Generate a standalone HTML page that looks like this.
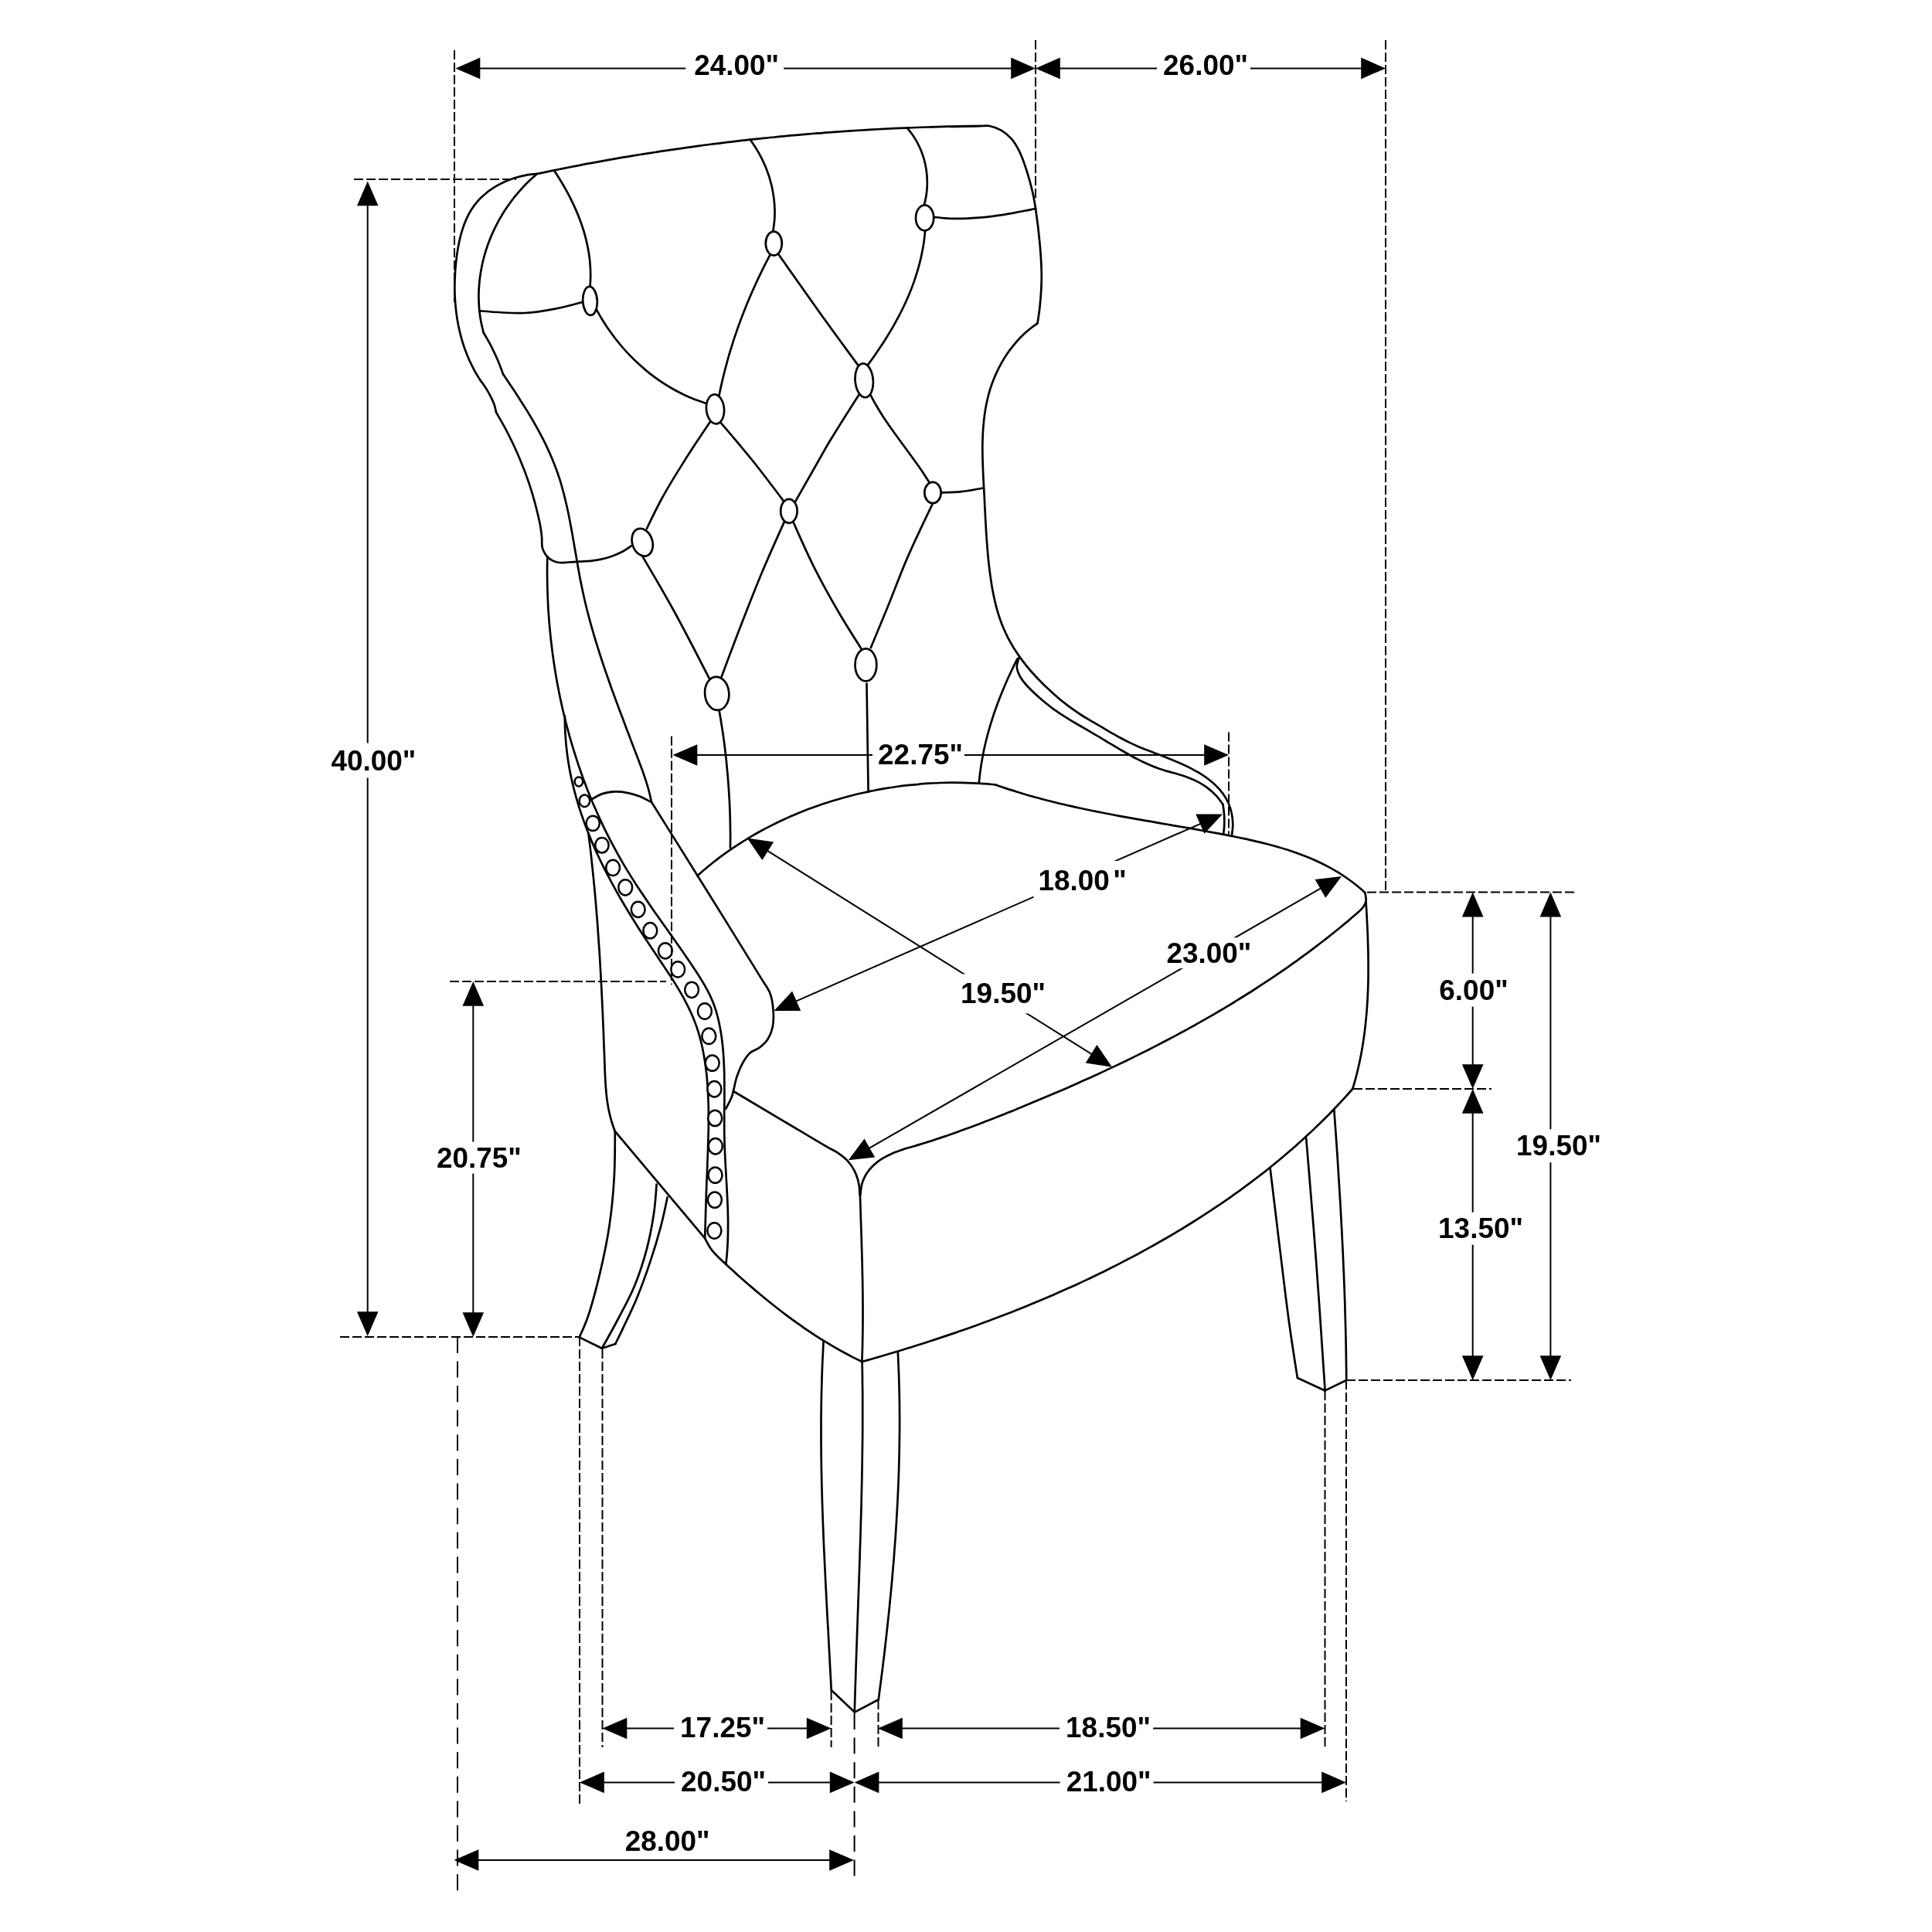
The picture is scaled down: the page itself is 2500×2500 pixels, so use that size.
<!DOCTYPE html>
<html lang="en">
<head>
<meta charset="utf-8">
<title>Chair dimensions</title>
<style>
html,body{margin:0;padding:0;background:#fff;}
body{width:2500px;height:2500px;overflow:hidden;}
svg{display:block;will-change:transform;}
</style>
</head>
<body>
<svg width="2500" height="2500" viewBox="0 0 2500 2500">
<rect width="2500" height="2500" fill="#fff"/>
<g fill="none" stroke="#000" stroke-width="2.7" stroke-linecap="round" stroke-linejoin="round">
<path d="M694.9 225C699.5 224 704.1 223 708.7 222.1C713.3 221.1 717.9 220.2 722.6 219.2C727.2 218.3 731.8 217.4 736.4 216.5C741 215.6 745.7 214.7 750.3 213.8C754.9 212.9 759.5 212 764.2 211.2C768.8 210.3 773.4 209.5 778.1 208.6C782.7 207.8 787.3 207 792 206.1C796.6 205.3 801.2 204.5 805.9 203.7C810.5 202.9 815.2 202.2 819.8 201.4C824.4 200.6 829.1 199.9 833.7 199.1C838.4 198.4 843 197.7 847.7 197C852.3 196.2 857 195.5 861.6 194.8C866.3 194.1 871 193.5 875.6 192.8C880.3 192.1 884.9 191.4 889.6 190.8C894.3 190.2 898.9 189.5 903.6 188.9C908.3 188.3 912.9 187.7 917.6 187C922.3 186.4 926.9 185.9 931.6 185.3C936.3 184.7 940.9 184.1 945.6 183.6C950.3 183 955 182.5 959.6 181.9C964.3 181.4 969 180.9 973.7 180.4C978.3 179.9 983 179.4 987.7 178.9C992.4 178.4 997.1 177.9 1001.8 177.5C1006.4 177 1011.1 176.5 1015.8 176.1C1020.5 175.7 1025.2 175.2 1029.9 174.8C1034.6 174.4 1039.3 174 1043.9 173.6C1048.6 173.2 1053.3 172.8 1058 172.4C1062.7 172.1 1067.4 171.7 1072.1 171.3C1076.8 171 1081.5 170.6 1086.2 170.3C1090.9 170 1095.6 169.7 1100.3 169.4C1105 169.1 1109.7 168.8 1114.4 168.5C1119.1 168.2 1123.8 167.9 1128.5 167.6C1133.2 167.4 1137.9 167.1 1142.6 166.9C1147.3 166.6 1152 166.4 1156.7 166.2C1161.4 166 1166.1 165.8 1170.8 165.6C1175.5 165.4 1180.2 165.2 1184.9 165C1189.6 164.8 1194.3 164.7 1199 164.5C1203.7 164.4 1208.4 164.2 1213.1 164.1C1217.8 164 1222.5 163.8 1227.2 163.7C1231.9 163.6 1236.7 163.5 1241.4 163.4C1246.1 163.3 1250.8 163.2 1255.5 163.2C1260.2 163.1 1264.9 163.1 1269.6 163"/>
<path d="M1230 164C1245.3 163.6 1260.5 163.1 1269.6 163C1274.3 162.9 1276.5 162.3 1280.4 163C1285.2 163.9 1291.3 166.2 1296 168.9C1300.6 171.6 1304.7 175 1308.4 179.2C1312.6 183.9 1316.1 189.9 1319.3 196.3C1323 203.6 1325.8 212.5 1328.6 221.1C1331.5 230.1 1334.3 240.4 1336.3 249.1C1338 256.6 1338.8 261.7 1340.1 270.2C1342 282.8 1344.4 302.3 1345.7 317.4C1346.9 331.4 1347.8 344.6 1347.8 357.8C1347.8 370.5 1346.8 384.1 1345.7 395C1344.9 403.7 1343.7 411 1342.5 418.3"/>
<path d="M1342.5 418.3C1338.6 421 1334.8 423.8 1331.2 426.8C1327.5 429.8 1324.1 433 1320.8 436.3C1317.5 439.7 1314.4 443.2 1311.5 446.8C1308.5 450.4 1305.7 454.1 1303.1 458C1300.5 461.8 1298.1 465.8 1295.8 469.9C1293.5 474 1291.4 478.1 1289.5 482.4C1287.5 486.6 1285.7 490.9 1284.1 495.3C1282.5 499.6 1281.1 504.1 1279.8 508.5C1278.6 513 1277.5 517.5 1276.5 522.1C1275.6 526.6 1274.8 531.2 1274.2 535.7C1273.5 540.3 1273 545 1272.6 549.6C1272.2 554.2 1271.9 558.9 1271.7 563.6C1271.5 568.2 1271.4 572.9 1271.3 577.6C1271.3 582.3 1271.4 587 1271.5 591.7C1271.5 596.4 1271.7 601.1 1271.9 605.9C1272.1 610.6 1272.3 615.3 1272.5 620C1272.8 624.7 1273 629.4 1273.3 634.1C1273.5 638.7 1273.8 643.4 1274 648.1C1274.2 652.7 1274.4 657.4 1274.7 662C1274.9 666.6 1275.1 671.3 1275.4 675.9C1275.7 680.5 1275.9 685.1 1276.2 689.8C1276.5 694.4 1276.8 699 1277.2 703.6C1277.5 708.2 1277.9 712.8 1278.3 717.4C1278.7 722.1 1279.2 726.7 1279.7 731.3C1280.3 735.9 1280.8 740.6 1281.5 745.2C1282.1 749.9 1282.8 754.5 1283.6 759.2C1284.4 763.8 1285.3 768.4 1286.3 773.1C1287.3 777.7 1288.4 782.2 1289.6 786.8C1290.8 791.3 1292.2 795.8 1293.7 800.2C1295.2 804.6 1296.8 809 1298.7 813.3C1300.5 817.6 1302.5 821.8 1304.6 825.9C1306.8 830 1309.1 834 1311.5 838C1314 841.9 1316.5 845.8 1319.2 849.6C1321.9 853.4 1324.8 857.1 1327.7 860.8C1330.6 864.4 1333.6 868 1336.8 871.5C1339.9 875 1343.1 878.4 1346.4 881.7C1349.7 885.1 1353 888.3 1356.5 891.5C1359.9 894.7 1363.3 897.9 1366.9 900.9C1370.4 904 1374 907 1377.7 909.9C1381.3 912.7 1385 915.5 1388.8 918.2C1392.6 920.9 1396.5 923.5 1400.4 926C1404.3 928.5 1408.3 930.8 1412.3 933.2C1416.3 935.5 1420.4 937.9 1424.4 940.2C1428.5 942.6 1432.5 945 1436.5 947.3C1440.6 949.6 1444.6 952 1448.8 954.2C1452.9 956.4 1457 958.6 1461.2 960.6C1465.4 962.7 1469.6 964.6 1473.9 966.4C1478.1 968.2 1482.4 969.9 1486.8 971.6C1491.1 973.3 1495.4 974.9 1499.8 976.6C1504.1 978.3 1508.4 979.9 1512.8 981.7C1517.1 983.4 1521.4 985.1 1525.7 987C1530 988.9 1534.2 990.8 1538.4 992.9C1542.6 995.1 1546.8 997.3 1550.9 999.7C1554.9 1002.2 1558.9 1004.7 1562.7 1007.5C1566.4 1010.4 1570.1 1013.3 1573.4 1016.6C1576.7 1019.8 1579.8 1023.3 1582.5 1027C1585.1 1030.7 1587.5 1034.7 1589.4 1038.8C1591.3 1043 1592.7 1047.6 1593.7 1052.2C1594.7 1056.7 1595.2 1061.6 1595.3 1066.2C1595.4 1070.9 1594.7 1075.6 1594.1 1080.2"/>
<path d="M694.9 225C690.2 225.4 685.6 225.7 680.9 226.6C676.2 227.4 671.4 228.6 666.8 230C662.1 231.5 657.4 233.3 652.9 235.3C648.5 237.3 644 239.6 639.9 242.2C635.8 244.8 631.7 247.6 628.1 250.7C624.4 253.7 621 257 617.9 260.6C614.8 264.1 612.1 267.9 609.7 271.8C607.2 275.7 605.1 279.9 603.2 284.1C601.3 288.4 599.7 292.8 598.3 297.3C596.8 301.8 595.7 306.4 594.6 311.1C593.5 315.8 592.7 320.5 591.9 325.3C591.2 330.1 590.6 334.9 590.1 339.7C589.5 344.6 589.1 349.4 588.9 354.2C588.6 359.1 588.4 363.9 588.4 368.8C588.3 373.6 588.4 378.4 588.6 383.3C588.8 388.1 589.2 392.9 589.7 397.7C590.1 402.4 590.7 407.2 591.5 411.9C592.3 416.6 593.1 421.3 594.2 426C595.2 430.6 596.4 435.3 597.7 439.8C599.1 444.4 600.5 448.9 602.2 453.4C603.8 457.8 605.6 462.2 607.5 466.5C609.5 470.9 611.6 475.1 613.9 479.3C616.2 483.5 618.7 487.5 621.2 491.6"/>
<path d="M621.2 491.6C624.3 495.7 627.4 499.8 630.2 504.6C633.4 510 637.3 517.4 639.3 522.7C640.7 526.5 641.3 529.8 641.9 533"/>
<path d="M643.2 535.6C645.6 539.7 648 543.8 650.3 547.9C652.6 552.1 654.9 556.3 657 560.5C659.2 564.7 661.3 569 663.4 573.2C665.4 577.5 667.4 581.9 669.3 586.2C671.3 590.6 673.1 594.9 674.9 599.4C676.7 603.8 678.4 608.2 680.1 612.7C681.7 617.1 683.3 621.6 684.8 626.1C686.3 630.6 687.7 635.2 689.1 639.7C690.4 644.3 691.7 648.9 692.9 653.5C694.1 658 695.3 662.7 696.3 667.3C697.4 671.9 698.5 676.6 699.3 681.2C700.1 685.9 700.7 690.5 701.1 695.2C701.6 699.8 700.6 704.8 701.9 709.2C703.3 713.7 706.2 718.7 709.6 721.8C712.9 724.8 717.6 726.8 721.9 727.7C726.4 728.7 731.3 727.7 736 727.5C740.8 727.3 745.5 726.8 750.2 726.6C754.9 726.3 759.5 726.3 764.2 725.8C768.8 725.3 773.5 724.6 778.1 723.6C782.8 722.6 787.4 721.3 791.9 719.7C796.4 718.1 800.8 716.2 805 714C809.2 711.7 813.1 709 817 706.3"/>
<path d="M694.9 225C691.3 228.1 687.7 231.2 684.3 234.5C680.9 237.8 677.5 241.3 674.4 244.8C671.2 248.3 668.1 252 665.1 255.7C662.2 259.5 659.3 263.3 656.6 267.3C653.9 271.2 651.3 275.2 648.9 279.4C646.4 283.5 644.1 287.7 642 291.9C639.8 296.2 637.8 300.5 635.9 304.9C634 309.3 632.3 313.8 630.7 318.3C629.2 322.8 627.7 327.4 626.5 332C625.2 336.6 624.1 341.2 623.2 345.9C622.3 350.5 621.5 355.2 620.9 360C620.3 364.7 619.9 369.4 619.7 374.1C619.4 378.9 619.4 383.6 619.5 388.4C619.6 393.1 619.9 397.9 620.4 402.6C620.9 407.4 621.6 412.1 622.5 416.8C623.4 421.5 624.6 426.1 625.8 430.8"/>
<path d="M625.8 430.8C629.1 436.3 632.4 441.7 635.4 447.6C638.6 453.8 641.8 460.7 644.5 467C646.9 472.8 648.9 478.3 650.9 483.9"/>
<path d="M650.9 483.9C653.5 487.7 656.1 491.6 658.6 495.4C661.2 499.3 663.8 503.2 666.4 507.1C668.9 511 671.5 515 674 518.9C676.6 522.9 679.1 526.9 681.6 530.9C684 535 686.5 539 688.9 543.1C691.2 547.2 693.6 551.3 695.9 555.4C698.1 559.6 700.4 563.7 702.5 567.9C704.6 572.1 706.7 576.3 708.7 580.6C710.7 584.9 712.6 589.1 714.4 593.5C716.2 597.8 717.9 602.1 719.5 606.5C721.2 610.9 722.6 615.3 724.1 619.7C725.5 624.2 726.8 628.6 728 633.1C729.3 637.6 730.4 642.1 731.5 646.7C732.6 651.2 733.6 655.7 734.6 660.3C735.6 664.9 736.5 669.5 737.4 674C738.3 678.6 739.1 683.3 740 687.9C740.8 692.5 741.6 697.1 742.4 701.7C743.2 706.4 744 711 744.8 715.6C745.6 720.2 746.4 724.9 747.2 729.5C748 734.1 748.8 738.8 749.7 743.4C750.5 748 751.4 752.6 752.4 757.2C753.3 761.8 754.3 766.4 755.3 771C756.3 775.5 757.4 780.1 758.5 784.7C759.6 789.2 760.8 793.7 762 798.3C763.2 802.8 764.4 807.3 765.7 811.8C767 816.3 768.3 820.8 769.6 825.3C771 829.8 772.4 834.3 773.8 838.8C775.2 843.2 776.6 847.7 778.1 852.2C779.5 856.6 781 861.1 782.5 865.5C784 869.9 785.6 874.4 787.1 878.8C788.7 883.2 790.2 887.7 791.8 892.1C793.4 896.5 795 900.9 796.6 905.3C798.3 909.7 799.9 914.1 801.5 918.5C803.2 922.9 804.8 927.2 806.5 931.6C808.1 936 809.8 940.4 811.4 944.8C813.1 949.1 814.8 953.5 816.4 957.9C818.1 962.2 819.8 966.6 821.4 971C823.1 975.3 824.7 979.7 826.4 984C828 988.4 829.7 992.7 831.3 997.1C832.8 1001.5 834.4 1005.8 835.8 1010.3C837.2 1014.7 838.6 1019.1 839.7 1023.5C840.9 1028 841.9 1032.5 842.8 1037"/>
<path d="M708.3 720.2C708.2 724.8 708.1 729.5 708.1 734.1C708 738.8 708.1 743.4 708.1 748.1C708.2 752.8 708.2 757.4 708.4 762.1C708.5 766.7 708.7 771.4 708.9 776.1C709.1 780.7 709.3 785.4 709.6 790.1C709.9 794.7 710.3 799.4 710.6 804.1C711 808.7 711.4 813.4 711.9 818.1C712.3 822.7 712.8 827.4 713.4 832C713.9 836.7 714.5 841.3 715.1 846C715.7 850.6 716.4 855.3 717.1 859.9C717.8 864.6 718.5 869.2 719.3 873.8C720.1 878.5 720.9 883.1 721.8 887.7C722.7 892.3 723.6 896.9 724.5 901.5C725.5 906.1 726.5 910.7 727.5 915.3C728.6 919.9 729.6 924.4 730.8 929C731.9 933.6 733.1 938.1 734.3 942.6C735.5 947.2 736.7 951.7 738 956.2C739.3 960.7 740.6 965.2 742 969.7C743.4 974.2 744.8 978.7 746.3 983.1C747.7 987.6 749.2 992.1 750.8 996.5C752.3 1000.9 753.9 1005.3 755.5 1009.7C757.2 1014.1 758.8 1018.5 760.5 1022.9C762.3 1027.2 764 1031.6 765.8 1035.9C767.6 1040.2 769.5 1044.5 771.4 1048.8C773.2 1053.1 775.2 1057.4 777.2 1061.6C779.1 1065.9 781.1 1070.1 783.2 1074.3C785.3 1078.5 787.4 1082.7 789.5 1086.8C791.7 1091 793.9 1095.1 796.1 1099.2C798.3 1103.3 800.6 1107.4 802.9 1111.5C805.3 1115.6 807.6 1119.6 810 1123.6C812.5 1127.6 814.9 1131.6 817.4 1135.6C819.9 1139.5 822.4 1143.5 825 1147.4C827.6 1151.3 830.2 1155.2 832.8 1159.1C835.4 1163 838 1166.8 840.7 1170.7C843.3 1174.6 846 1178.4 848.7 1182.3C851.4 1186.1 854.1 1189.9 856.8 1193.8C859.5 1197.6 862.2 1201.4 865 1205.3C867.7 1209.1 870.4 1212.9 873.1 1216.7C875.8 1220.6 878.5 1224.4 881.2 1228.3C883.8 1232.1 886.5 1236 889.1 1239.8C891.8 1243.7 894.4 1247.6 897 1251.5C899.6 1255.3 902.2 1259.2 904.7 1263.2C907.1 1267.1 909.6 1271.1 911.9 1275.1C914.2 1279.1 916.4 1283.2 918.4 1287.4C920.3 1291.5 922.2 1295.7 923.8 1300C925.4 1304.3 926.8 1308.7 928 1313.1C929.2 1317.5 930.2 1322 931.1 1326.6C932.1 1331.1 932.8 1335.7 933.5 1340.3C934.2 1344.9 934.7 1349.5 935.2 1354.1C935.7 1358.8 936 1363.5 936.3 1368.1C936.6 1372.8 936.8 1377.5 937 1382.3C937.2 1387 937.3 1391.7 937.3 1396.5C937.4 1401.2 937.4 1406 937.4 1410.7C937.4 1415.5 937.4 1420.3 937.4 1425C937.3 1429.8 937.3 1434.6 937.2 1439.3C937.2 1444.1 937.2 1448.8 937.2 1453.6C937.2 1458.3 937.2 1463 937.3 1467.8C937.4 1472.5 937.5 1477.2 937.6 1481.8C937.8 1486.5 938 1491.2 938.2 1495.8C938.4 1500.5 938.7 1505.1 938.9 1509.8C939.2 1514.4 939.5 1519.1 939.7 1523.7C940 1528.3 940.3 1532.9 940.5 1537.6C940.8 1542.2 941 1546.8 941.2 1551.4C941.4 1556.1 941.6 1560.7 941.8 1565.4C941.9 1570 942 1574.6 942.1 1579.3C942.1 1584 942.1 1588.6 942 1593.3C942 1598 941.9 1602.7 941.7 1607.4C941.4 1612.2 941.2 1616.9 940.8 1621.6C940.4 1626.4 939.9 1631.2 939.4 1636"/>
<path d="M730.9 926.6C730.9 931.4 730.9 936.3 731.1 941.1C731.2 945.9 731.5 950.6 731.9 955.4C732.2 960.1 732.6 964.8 733.2 969.5C733.7 974.2 734.3 978.9 735 983.5C735.7 988.2 736.5 992.8 737.4 997.4C738.3 1002 739.2 1006.6 740.3 1011.1C741.3 1015.7 742.4 1020.2 743.6 1024.7C744.8 1029.2 746 1033.7 747.4 1038.1C748.7 1042.6 750.1 1047 751.6 1051.4C753 1055.8 754.6 1060.2 756.2 1064.6C757.7 1069 759.4 1073.3 761.1 1077.6C762.9 1082 764.6 1086.3 766.5 1090.6C768.3 1094.9 770.2 1099.1 772.1 1103.4C774.1 1107.6 776.1 1111.9 778.1 1116.1C780.2 1120.3 782.3 1124.5 784.4 1128.7C786.6 1132.9 788.8 1137 791 1141.2C793.2 1145.3 795.5 1149.4 797.8 1153.6C800.1 1157.7 802.5 1161.8 804.8 1165.8C807.2 1169.9 809.6 1174 812.1 1178C814.5 1182.1 817 1186.1 819.5 1190.1C822 1194.2 824.5 1198.2 827.1 1202.2C829.6 1206.1 832.2 1210.1 834.8 1214.1C837.4 1218.1 840 1222 842.7 1225.9C845.3 1229.9 848 1233.8 850.6 1237.7C853.2 1241.7 855.9 1245.6 858.5 1249.5C861.1 1253.4 863.8 1257.3 866.3 1261.3C868.9 1265.2 871.4 1269.1 873.9 1273.1C876.3 1277.1 878.7 1281.1 881.1 1285.1C883.4 1289.1 885.6 1293.2 887.7 1297.3C889.9 1301.4 891.9 1305.5 893.8 1309.7C895.7 1313.9 897.5 1318.1 899.1 1322.4C900.8 1326.7 902.3 1331 903.6 1335.4C905 1339.8 906.2 1344.3 907.3 1348.8C908.4 1353.3 909.4 1357.8 910.2 1362.4C911.1 1366.9 911.9 1371.5 912.5 1376.2C913.2 1380.8 913.8 1385.5 914.3 1390.1C914.8 1394.8 915.2 1399.5 915.5 1404.2C915.9 1408.9 916.1 1413.7 916.3 1418.4C916.5 1423.1 916.7 1427.9 916.8 1432.6C916.9 1437.4 916.9 1442.2 916.9 1446.9C916.9 1451.7 916.8 1456.5 916.8 1461.3C916.7 1466 916.6 1470.8 916.4 1475.6C916.3 1480.4 916.1 1485.1 916 1489.9C915.8 1494.7 915.6 1499.4 915.4 1504.2C915.3 1508.9 915.1 1513.7 914.9 1518.4C914.7 1523.1 914.5 1527.8 914.3 1532.6C914.2 1537.3 914 1541.9 913.8 1546.6C913.7 1551.3 913.5 1556 913.4 1560.6C913.2 1565.3 913.1 1569.9 913 1574.6C912.8 1579.2 912.7 1583.8 912.6 1588.5C912.4 1593.1 912.3 1597.7 912.2 1602.3"/>
<path d="M761.3 1077.6C761.9 1082.4 762.5 1087.1 763.1 1091.9C763.7 1096.7 764.2 1101.4 764.8 1106.2C765.3 1111 765.8 1115.7 766.3 1120.5C766.9 1125.3 767.3 1130.1 767.8 1134.8C768.3 1139.6 768.8 1144.4 769.2 1149.2C769.7 1154 770.1 1158.8 770.5 1163.5C770.9 1168.3 771.3 1173.1 771.7 1177.9C772.1 1182.7 772.5 1187.5 772.9 1192.3C773.2 1197.1 773.6 1201.9 773.9 1206.6C774.3 1211.4 774.6 1216.2 774.9 1221C775.2 1225.8 775.6 1230.6 775.9 1235.4C776.2 1240.2 776.4 1245 776.7 1249.8C777 1254.6 777.3 1259.4 777.5 1264.2C777.8 1269 778 1273.8 778.3 1278.6C778.5 1283.4 778.8 1288.2 779 1293C779.2 1297.8 779.4 1302.6 779.7 1307.4C779.9 1312.2 780.1 1317 780.3 1321.8C780.5 1326.6 780.7 1331.4 780.9 1336.2C781.1 1341 781.3 1345.8 781.4 1350.6C781.6 1355.4 781.8 1360.2 782 1365C782.2 1369.8 782.3 1374.6 782.5 1379.4C782.7 1384.2 782.8 1389 783.1 1393.8C783.3 1398.5 783.6 1403.3 784 1408.1C784.4 1412.8 784.8 1417.6 785.4 1422.3C786.1 1427 786.8 1431.7 787.7 1436.4C788.7 1441 789.8 1445.7 791.1 1450.2C792.4 1454.8 794.1 1459.4 795.8 1463.9"/>
<path d="M795.8 1463.9 L912.2 1602.3"/>
<path d="M912.2 1602.3C914.8 1607.5 917.3 1612.8 921.3 1617.9C926 1624 932.7 1630 939.4 1636"/>
<path d="M939.4 1636C942.9 1639.3 946.5 1642.5 950.1 1645.7C953.6 1649 957.2 1652.2 960.9 1655.4C964.5 1658.6 968.1 1661.8 971.8 1664.9C975.5 1668.1 979.1 1671.2 982.8 1674.3C986.6 1677.4 990.3 1680.5 994 1683.5C997.8 1686.5 1001.6 1689.5 1005.4 1692.5C1009.2 1695.5 1013 1698.4 1016.9 1701.3C1020.8 1704.2 1024.7 1707.1 1028.6 1709.9C1032.5 1712.8 1036.4 1715.5 1040.4 1718.3C1044.4 1721 1048.4 1723.7 1052.4 1726.4C1056.5 1729 1060.5 1731.6 1064.6 1734.2C1068.7 1736.7 1072.9 1739.2 1077 1741.6C1081.2 1744.1 1085.4 1746.5 1089.6 1748.8C1093.8 1751.1 1098.1 1753.4 1102.4 1755.6C1106.7 1757.8 1111 1759.9 1115.4 1762"/>
<path d="M765.2 1034.6C769.9 1031.7 774.5 1028.8 779.6 1027.1C784.6 1025.4 790 1024.7 795.3 1024.4C800.6 1024.2 806.2 1024.8 811.5 1025.8C816.8 1026.7 822.1 1028.4 827.2 1030.3C832.1 1032.3 836.8 1034.8 841.5 1037.4"/>
<path d="M842.8 1037.5C866.9 1076 891.1 1114.6 915 1153C938.7 1191.1 972.5 1245.2 985.7 1267.1C991 1275.9 994.1 1279 996.6 1285.7C999.1 1292.5 1000.1 1300.2 1000.6 1307.5C1001.1 1314.7 1001.1 1322.7 999.7 1329.2C998.5 1334.9 996.4 1340.2 993.5 1344.7C990.7 1349 986.6 1352.6 982.6 1355.6C978.8 1358.5 973.7 1359.5 970.2 1362.7C966.4 1366.1 963.6 1370.9 960.9 1375.8C957.8 1381.3 955.1 1388.4 953.1 1394.4C951.4 1399.7 950.5 1405.4 949.4 1409.9C948.5 1413.4 948.2 1415.9 946.9 1419.3C945.2 1423.9 942.1 1429.4 939.1 1434.8"/>
<path d="M902.3 1133.3C905.9 1130.2 909.4 1127 913.1 1124C916.7 1120.9 920.4 1117.9 924.1 1115C927.9 1112.1 931.7 1109.2 935.5 1106.4C939.3 1103.6 943.2 1100.9 947.2 1098.2C951.1 1095.5 955.1 1092.9 959.1 1090.4C963.1 1087.8 967.1 1085.4 971.2 1082.9C975.3 1080.5 979.5 1078.1 983.6 1075.8C987.8 1073.5 992 1071.3 996.3 1069.1C1000.5 1067 1004.8 1064.9 1009.1 1062.8C1013.4 1060.8 1017.7 1058.8 1022.1 1056.8C1026.5 1054.9 1030.9 1053.1 1035.3 1051.3C1039.8 1049.5 1044.2 1047.7 1048.7 1046.1C1053.2 1044.4 1057.7 1042.8 1062.2 1041.2C1066.8 1039.7 1071.3 1038.2 1075.9 1036.8C1080.5 1035.4 1085.1 1034 1089.7 1032.7C1094.3 1031.4 1098.9 1030.2 1103.6 1029C1108.2 1027.8 1112.9 1026.7 1117.6 1025.7C1122.3 1024.6 1127 1023.7 1131.7 1022.7C1136.4 1021.8 1141.1 1021 1145.8 1020.2C1150.6 1019.4 1155.3 1018.7 1160 1018C1164.8 1017.3 1169.5 1016.7 1174.3 1016.2C1179 1015.6 1183.8 1015.2 1188.6 1014.8C1193.3 1014.3 1198.1 1014 1202.9 1013.7C1207.6 1013.4 1212.4 1013.2 1217.1 1013C1221.9 1012.9 1226.7 1012.8 1231.4 1012.7C1236.2 1012.7 1240.9 1012.7 1245.7 1012.8C1250.4 1012.9 1255.1 1013.1 1259.9 1013.3C1264.6 1013.5 1269.3 1013.8 1274 1014.2C1278.7 1014.5 1283.4 1015 1288.1 1015.4"/>
<path d="M1288.1 1015.4C1292.6 1017 1297.2 1018.6 1301.7 1020.1C1306.3 1021.6 1310.9 1023.1 1315.5 1024.5C1320 1025.9 1324.6 1027.3 1329.2 1028.7C1333.8 1030 1338.5 1031.3 1343.1 1032.5C1347.7 1033.8 1352.3 1035 1357 1036.2C1361.6 1037.4 1366.2 1038.5 1370.9 1039.7C1375.6 1040.8 1380.2 1041.9 1384.9 1042.9C1389.6 1044 1394.2 1045 1398.9 1046C1403.6 1047 1408.3 1048 1413 1049C1417.7 1049.9 1422.4 1050.9 1427.1 1051.8C1431.8 1052.7 1436.5 1053.6 1441.2 1054.5C1445.9 1055.4 1450.6 1056.2 1455.3 1057.1C1460 1057.9 1464.7 1058.8 1469.5 1059.6C1474.2 1060.5 1478.9 1061.3 1483.6 1062.1C1488.4 1062.9 1493.1 1063.7 1497.8 1064.6C1502.5 1065.4 1507.3 1066.2 1512 1067C1516.7 1067.8 1521.5 1068.6 1526.2 1069.5C1530.9 1070.3 1535.6 1071.1 1540.4 1071.9C1545.1 1072.8 1549.8 1073.6 1554.5 1074.5C1559.2 1075.3 1564 1076.2 1568.7 1077.1C1573.4 1077.9 1578.1 1078.8 1582.8 1079.7C1587.5 1080.6 1592.2 1081.6 1596.9 1082.5C1601.6 1083.5 1606.3 1084.4 1611 1085.4C1615.7 1086.5 1620.4 1087.5 1625 1088.6C1629.7 1089.7 1634.3 1090.8 1639 1092C1643.6 1093.1 1648.2 1094.4 1652.8 1095.7C1657.3 1097 1661.9 1098.4 1666.4 1099.8C1670.9 1101.3 1675.4 1102.8 1679.8 1104.4C1684.3 1106 1688.7 1107.7 1693.1 1109.5C1697.5 1111.3 1701.8 1113.2 1706.1 1115.2C1710.4 1117.2 1714.6 1119.3 1718.8 1121.6C1723 1123.8 1727.1 1126.2 1731.2 1128.7C1735.3 1131.2 1739.3 1133.8 1743.2 1136.5C1747.2 1139.3 1751.1 1142.2 1754.9 1145.3C1758.8 1148.3 1762.5 1151.6 1766.2 1154.9"/>
<path d="M1766.2 1154.9C1767.2 1159 1768.1 1163.2 1767.5 1166.6C1767 1169.5 1765.3 1172 1763.6 1174.3C1761.9 1176.7 1759.5 1178.8 1757.1 1180.8"/>
<path d="M1757.1 1180.8C1753.5 1183.9 1749.9 1187 1746.3 1190.1C1742.6 1193.1 1739 1196.2 1735.3 1199.2C1731.6 1202.2 1727.9 1205.2 1724.2 1208.2C1720.5 1211.1 1716.8 1214.1 1713 1217C1709.3 1219.9 1705.5 1222.8 1701.7 1225.6C1698 1228.5 1694.2 1231.3 1690.4 1234.2C1686.5 1237 1682.7 1239.8 1678.9 1242.6C1675 1245.3 1671.2 1248.1 1667.3 1250.8C1663.4 1253.5 1659.5 1256.2 1655.6 1258.9C1651.7 1261.6 1647.8 1264.3 1643.8 1266.9C1639.9 1269.5 1635.9 1272.1 1631.9 1274.7C1628 1277.3 1624 1279.9 1620 1282.5C1616 1285 1612 1287.5 1608 1290C1603.9 1292.6 1599.9 1295 1595.9 1297.5C1591.8 1300 1587.7 1302.4 1583.7 1304.9C1579.6 1307.3 1575.5 1309.7 1571.4 1312.1C1567.3 1314.5 1563.2 1316.8 1559.1 1319.2C1554.9 1321.6 1550.8 1323.9 1546.7 1326.2C1542.5 1328.5 1538.4 1330.8 1534.2 1333.1C1530 1335.4 1525.8 1337.6 1521.7 1339.9C1517.5 1342.1 1513.3 1344.3 1509.1 1346.5C1504.9 1348.7 1500.6 1350.9 1496.4 1353.1C1492.2 1355.3 1488 1357.4 1483.7 1359.6C1479.5 1361.7 1475.2 1363.8 1471 1365.9C1466.7 1368 1462.4 1370.1 1458.2 1372.2C1453.9 1374.3 1449.6 1376.3 1445.3 1378.4C1441 1380.4 1436.7 1382.4 1432.4 1384.4C1428.1 1386.5 1423.8 1388.5 1419.5 1390.4C1415.2 1392.4 1410.9 1394.4 1406.5 1396.3C1402.2 1398.3 1397.9 1400.2 1393.5 1402.2C1389.2 1404.1 1384.8 1406 1380.5 1407.9C1376.1 1409.8 1371.8 1411.7 1367.4 1413.6C1363.1 1415.4 1358.7 1417.3 1354.3 1419.1C1350 1421 1345.6 1422.8 1341.2 1424.6C1336.9 1426.5 1332.5 1428.3 1328.1 1430.1C1323.7 1431.9 1319.4 1433.7 1315 1435.4C1310.6 1437.2 1306.2 1439 1301.8 1440.7C1297.4 1442.5 1293 1444.2 1288.7 1446C1284.3 1447.7 1279.9 1449.4 1275.5 1451.1C1271.1 1452.8 1266.6 1454.5 1262.2 1456.2C1257.8 1457.9 1253.4 1459.5 1248.9 1461.1C1244.5 1462.8 1240 1464.4 1235.5 1466C1231.1 1467.5 1226.6 1469.1 1222.1 1470.6C1217.6 1472.2 1213 1473.7 1208.5 1475.2C1203.9 1476.6 1199.4 1478.1 1194.8 1479.5C1190.2 1480.9 1185.5 1482.3 1180.9 1483.7C1176.3 1485.1 1171.6 1486.4 1167.1 1487.9C1162.6 1489.5 1158.1 1491 1153.7 1492.9C1149.5 1494.8 1145.2 1496.9 1141.3 1499.4C1137.4 1501.8 1133.7 1504.6 1130.4 1507.8C1127.1 1511 1124 1514.5 1121.5 1518.3C1119.1 1522.2 1117 1526.6 1115.6 1531.1C1114.2 1535.8 1113.8 1540.9 1113.4 1546"/>
<path d="M1767.5 1166.6C1767.8 1171.3 1768.1 1176.1 1768.4 1180.8C1768.6 1185.6 1768.9 1190.4 1769.1 1195.2C1769.4 1199.9 1769.6 1204.7 1769.8 1209.5C1769.9 1214.3 1770.1 1219.1 1770.2 1223.9C1770.4 1228.7 1770.5 1233.5 1770.5 1238.4C1770.6 1243.2 1770.6 1248 1770.6 1252.8C1770.6 1257.6 1770.6 1262.4 1770.5 1267.2C1770.4 1272.1 1770.3 1276.9 1770.1 1281.7C1769.9 1286.5 1769.7 1291.3 1769.4 1296.1C1769.1 1300.9 1768.8 1305.7 1768.4 1310.5C1768 1315.2 1767.5 1320 1767 1324.8C1766.5 1329.6 1766 1334.3 1765.3 1339.1C1764.7 1343.8 1764 1348.5 1763.2 1353.2C1762.4 1358 1761.6 1362.7 1760.7 1367.3C1759.8 1372 1758.8 1376.7 1757.7 1381.3C1756.6 1386 1755.5 1390.6 1754.3 1395.2C1753 1399.8 1751.7 1404.4 1750.3 1409"/>
<path d="M948.9 1412C969.3 1424.1 989.7 1436.3 1010 1448.3C1030.1 1460.2 1056.8 1476.4 1069.9 1483.9C1076.2 1487.5 1079.5 1488.6 1083.9 1491.6C1088.3 1494.6 1092.7 1497.8 1096.3 1501.7C1099.9 1505.6 1103.2 1510.1 1105.6 1514.9C1108.1 1519.7 1109.8 1525.2 1111 1530.4C1112.1 1535.5 1112.4 1540.8 1112.6 1546"/>
<path d="M1112.9 1546C1113.1 1550.8 1113.2 1555.6 1113.4 1560.4C1113.5 1565.2 1113.7 1570 1113.8 1574.8C1114 1579.6 1114.2 1584.4 1114.3 1589.2C1114.5 1594 1114.6 1598.8 1114.8 1603.6C1114.9 1608.4 1115 1613.2 1115.2 1618C1115.3 1622.8 1115.5 1627.6 1115.6 1632.4C1115.7 1637.2 1115.8 1642 1115.9 1646.8C1116 1651.6 1116.1 1656.4 1116.2 1661.2C1116.3 1666 1116.3 1670.8 1116.4 1675.6C1116.4 1680.4 1116.5 1685.2 1116.5 1690C1116.5 1694.8 1116.5 1699.6 1116.5 1704.4C1116.5 1709.2 1116.5 1714 1116.4 1718.8C1116.4 1723.6 1116.3 1728.4 1116.2 1733.2C1116.1 1738 1116 1742.8 1115.9 1747.6C1115.7 1752.4 1115.6 1757.2 1115.4 1762"/>
<path d="M1115.6 1762C1120.1 1760.7 1124.6 1759.5 1129.1 1758.2C1133.6 1756.9 1138.1 1755.6 1142.6 1754.3C1147.1 1753 1151.6 1751.6 1156 1750.3C1160.5 1749 1165 1747.6 1169.5 1746.2C1174 1744.8 1178.5 1743.5 1183 1742C1187.5 1740.6 1192 1739.2 1196.5 1737.8C1200.9 1736.3 1205.4 1734.9 1209.9 1733.4C1214.4 1731.9 1218.9 1730.4 1223.3 1728.9C1227.8 1727.4 1232.3 1725.9 1236.8 1724.4C1241.2 1722.8 1245.7 1721.3 1250.1 1719.7C1254.6 1718.1 1259.1 1716.5 1263.5 1714.9C1268 1713.3 1272.4 1711.7 1276.8 1710.1C1281.3 1708.4 1285.7 1706.7 1290.1 1705.1C1294.6 1703.4 1299 1701.7 1303.4 1700C1307.8 1698.3 1312.2 1696.5 1316.6 1694.8C1321.1 1693 1325.4 1691.3 1329.8 1689.5C1334.2 1687.7 1338.6 1685.9 1343 1684C1347.4 1682.2 1351.7 1680.4 1356.1 1678.5C1360.4 1676.6 1364.8 1674.7 1369.1 1672.8C1373.5 1670.9 1377.8 1669 1382.1 1667.1C1386.5 1665.1 1390.8 1663.1 1395.1 1661.2C1399.4 1659.2 1403.7 1657.2 1408 1655.1C1412.2 1653.1 1416.5 1651.1 1420.8 1649C1425 1646.9 1429.3 1644.9 1433.5 1642.7C1437.8 1640.6 1442 1638.5 1446.2 1636.4C1450.4 1634.2 1454.6 1632 1458.8 1629.8C1463 1627.6 1467.2 1625.4 1471.4 1623.2C1475.5 1621 1479.7 1618.7 1483.8 1616.4C1488 1614.1 1492.1 1611.8 1496.2 1609.5C1500.3 1607.2 1504.4 1604.8 1508.5 1602.5C1512.6 1600.1 1516.7 1597.7 1520.7 1595.3C1524.8 1592.9 1528.8 1590.4 1532.8 1588C1536.9 1585.5 1540.9 1583 1544.9 1580.5C1548.8 1578 1552.8 1575.5 1556.8 1572.9C1560.7 1570.4 1564.7 1567.8 1568.6 1565.2C1572.5 1562.6 1576.5 1559.9 1580.3 1557.3C1584.2 1554.6 1588.1 1552 1592 1549.3C1595.8 1546.6 1599.7 1543.8 1603.5 1541.1C1607.3 1538.3 1611.1 1535.5 1614.9 1532.7C1618.6 1529.9 1622.4 1527.1 1626.1 1524.2C1629.9 1521.4 1633.6 1518.5 1637.3 1515.6C1641 1512.7 1644.6 1509.7 1648.3 1506.8C1651.9 1503.8 1655.6 1500.8 1659.2 1497.8C1662.8 1494.8 1666.3 1491.7 1669.9 1488.6C1673.5 1485.6 1677 1482.4 1680.5 1479.3C1684 1476.2 1687.5 1473 1690.9 1469.8C1694.4 1466.6 1697.8 1463.4 1701.2 1460.1C1704.6 1456.9 1708 1453.6 1711.4 1450.3C1714.7 1447 1718.1 1443.6 1721.4 1440.2C1724.7 1436.9 1727.9 1433.5 1731.2 1430C1734.4 1426.6 1737.6 1423.1 1740.8 1419.6C1744 1416.1 1747.2 1412.6 1750.3 1409"/>
<path d="M1319.2 849.7C1317.4 854.3 1315.6 858.9 1315.8 863.3C1316 867.6 1318.1 872.1 1320.3 876C1322.5 880.1 1325.9 883.9 1329.1 887.5C1332.3 891.1 1335.9 894.5 1339.4 897.8C1342.9 901.1 1346.5 904.2 1350.1 907.3C1353.8 910.3 1357.5 913.3 1361.3 916.1C1365.1 918.9 1369 921.5 1372.9 924.2C1376.9 926.8 1380.9 929.3 1385 931.8C1389 934.2 1393.1 936.6 1397.2 939C1401.4 941.4 1405.5 943.8 1409.6 946.2C1413.7 948.6 1417.9 951 1422 953.4C1426.1 955.8 1430.1 958.3 1434.2 960.8C1438.3 963.2 1442.4 965.7 1446.5 968.1C1450.6 970.5 1454.7 973 1458.8 975.3C1463 977.6 1467.1 979.9 1471.4 982.1C1475.6 984.3 1479.9 986.4 1484.2 988.3C1488.5 990.2 1492.9 992.1 1497.4 993.7C1501.9 995.3 1506.4 996.7 1511 998.1C1515.6 999.5 1520.2 1000.6 1524.8 1002C1529.3 1003.4 1533.9 1004.7 1538.3 1006.5C1542.8 1008.2 1547.1 1010.1 1551.3 1012.4C1555.4 1014.7 1559.5 1017.2 1563.2 1020.1C1567 1023 1570.5 1026.2 1573.8 1029.6C1577 1033.1 1579.7 1037.1 1582.5 1041.1"/>
<path d="M1582.5 1041.1C1583.2 1045.5 1583.8 1049.9 1584.1 1054.6C1584.4 1059.6 1584.4 1065.5 1584.1 1070.1C1583.9 1073.7 1583.4 1076.8 1583 1079.9"/>
<path d="M1316.6 852.3C1314.5 856.5 1312.4 860.6 1310.4 864.8C1308.3 869 1306.4 873.2 1304.4 877.5C1302.5 881.8 1300.6 886 1298.8 890.4C1297 894.7 1295.2 899 1293.5 903.4C1291.8 907.7 1290.2 912.1 1288.6 916.5C1287 920.9 1285.5 925.4 1284.1 929.8C1282.7 934.3 1281.3 938.8 1280 943.3C1278.7 947.8 1277.5 952.3 1276.4 956.8C1275.2 961.3 1274.2 965.9 1273.2 970.5C1272.3 975 1271.4 979.6 1270.6 984.2C1269.8 988.8 1269.1 993.4 1268.5 998.1C1267.8 1002.7 1267.4 1007.4 1266.9 1012"/>
<path d="M717 220.4C719.7 224.5 722.3 228.5 724.8 232.7C727.4 236.9 729.8 241.1 732.2 245.4C734.6 249.6 736.9 254 739 258.3C741.2 262.7 743.3 267.1 745.2 271.6C747.2 276.1 749 280.6 750.7 285.2C752.4 289.8 754 294.4 755.4 299C756.8 303.7 758 308.4 759.1 313.1C760.2 317.8 761.2 322.6 761.9 327.4C762.7 332.2 763.3 337 763.6 341.9C764 346.7 764.2 351.6 764.2 356.5C764.2 361.4 763.8 366.4 763.5 371.3"/>
<path d="M970.6 180.5C973.3 184.3 976 188.1 978.4 192.1C980.9 196.1 983.2 200.2 985.3 204.4C987.4 208.5 989.3 212.8 991.1 217.1C992.8 221.5 994.4 225.9 995.8 230.4C997.1 234.8 998.3 239.4 999.3 243.9C1000.2 248.5 1001 253.1 1001.5 257.7C1002.1 262.3 1002.4 267 1002.5 271.7C1002.6 276.3 1002.5 281 1002.1 285.7C1001.7 290.3 1001 295 1000.3 299.6"/>
<path d="M1173.9 165.7C1177.1 169.6 1180.4 173.6 1183.1 177.9C1185.8 182.1 1188.2 186.6 1190.3 191.2C1192.4 195.8 1194.1 200.6 1195.5 205.4C1196.9 210.3 1198 215.3 1198.7 220.3C1199.4 225.3 1199.8 230.3 1199.8 235.4C1199.9 240.4 1199.6 245.5 1198.9 250.5C1198.3 255.5 1197.1 260.5 1195.9 265.4"/>
<path d="M620.4 402.3C641.1 404 661.8 405.8 679.4 405C693.7 404.4 705.3 402.2 718.2 399.7C731.2 397.2 744.1 393.6 757 390"/>
<path d="M1208.3 280.9C1213.2 281.4 1218.1 282 1223.1 282.3C1228 282.6 1232.9 282.8 1237.8 282.8C1242.8 282.8 1247.7 282.8 1252.6 282.6C1257.5 282.4 1262.4 282 1267.4 281.6C1272.3 281.2 1277.2 280.7 1282.1 280.1C1287 279.5 1291.8 278.8 1296.7 278.1C1301.6 277.3 1306.5 276.5 1311.3 275.6C1316.2 274.7 1321 273.8 1325.9 272.8C1330.7 271.9 1335.5 270.8 1340.3 269.8"/>
<path d="M1217.7 637.5C1226.5 637.3 1235.2 637.2 1244.1 636.2C1253.3 635.2 1262.5 633.4 1271.8 631.6"/>
<path d="M771.3 399.7C773.7 404 776.1 408.3 778.6 412.5C781.2 416.7 783.9 420.9 786.7 425C789.5 429 792.4 433 795.4 437C798.4 440.9 801.5 444.7 804.7 448.5C807.9 452.2 811.2 455.9 814.6 459.4C818 463 821.5 466.5 825.2 469.8C828.8 473.2 832.5 476.4 836.3 479.6C840 482.7 843.9 485.7 847.9 488.6C851.9 491.5 855.9 494.3 860.1 496.9C864.2 499.6 868.5 502.1 872.8 504.5C877.1 506.9 881.5 509.1 885.9 511.2C890.4 513.3 894.9 515.2 899.5 517C904.2 518.8 908.9 520.3 913.6 521.9"/>
<path d="M996.4 329.9C994.1 334.3 991.8 338.7 989.5 343.2C987.3 347.6 985 352.1 982.9 356.6C980.7 361.1 978.6 365.7 976.6 370.2C974.5 374.7 972.5 379.3 970.5 383.9C968.6 388.5 966.6 393.1 964.8 397.7C962.9 402.4 961.1 407 959.3 411.7C957.6 416.4 955.9 421 954.2 425.8C952.6 430.5 951 435.2 949.4 439.9C947.9 444.7 946.4 449.4 944.9 454.2C943.5 459 942.1 463.8 940.8 468.6C939.5 473.4 938.2 478.2 937 483.1C935.8 487.9 934.6 492.8 933.5 497.6C932.4 502.5 931.4 507.4 930.4 512.3"/>
<path d="M1007.5 329.3C1024.5 353.5 1041.5 377.7 1058.7 401.7C1075.8 425.6 1093.2 449.2 1110.5 472.9"/>
<path d="M1197.2 298.2C1196.7 303.1 1196.2 308 1195.6 312.9C1194.9 317.8 1194 322.6 1193 327.4C1192.1 332.2 1191 336.9 1189.7 341.7C1188.5 346.4 1187.1 351.1 1185.6 355.7C1184.2 360.4 1182.6 365 1180.9 369.6C1179.2 374.1 1177.3 378.7 1175.4 383.2C1173.5 387.7 1171.5 392.1 1169.4 396.5C1167.3 401 1165.1 405.3 1162.8 409.7C1160.5 414 1158.1 418.3 1155.7 422.6C1153.2 426.8 1150.7 431 1148.1 435.2C1145.6 439.4 1142.9 443.5 1140.2 447.6C1137.5 451.7 1134.8 455.7 1132 459.7C1129.2 463.7 1126.3 467.7 1123.4 471.6"/>
<path d="M918.8 546C907.8 562.3 896.8 578.6 886.4 595.1C876.2 611.3 865.6 628.3 857 644C849.4 657.9 843.1 671 836.9 684.1"/>
<path d="M933 547.3C947.1 563.7 961.1 580.2 974.6 597C988 613.7 1000.8 630.8 1013.6 647.9"/>
<path d="M1111.7 510.4C1097.9 531.9 1084.2 553.4 1074.2 570C1067.2 581.6 1063.4 588.8 1057 600C1048.8 614.4 1039 631.8 1029.1 649.2"/>
<path d="M1126.8 511.7C1129.2 516.2 1131.5 520.6 1134.1 525C1136.6 529.4 1139.3 533.7 1142 537.9C1144.7 542.1 1147.6 546.3 1150.4 550.5C1153.3 554.6 1156.2 558.7 1159.2 562.8C1162.1 566.9 1165.1 571 1168.1 575C1171.1 579.1 1174.1 583.2 1177.1 587.2C1180.1 591.3 1183.1 595.4 1186 599.5C1188.9 603.6 1191.8 607.7 1194.6 611.9C1197.3 616.1 1200 620.3 1202.7 624.6"/>
<path d="M831.2 719.6C845 742.9 858.7 766.3 872.6 791.5C887.6 818.9 902.8 848.6 917.9 878.2"/>
<path d="M1014.9 675.1C1005.2 696.6 995.5 718.2 986.4 739.8C977.4 761.3 969.2 782.3 960.6 804.5C951.5 827.8 942.5 852.1 933.4 876.4"/>
<path d="M1026.6 675.6C1035.3 695.4 1044 715.3 1053.7 734.6C1063.4 753.9 1074.3 773.5 1084.8 791.5C1094.6 808.3 1104.5 823.8 1114.5 839.4"/>
<path d="M1207.1 651.2C1195.7 674.8 1184.2 698.5 1174.2 721.6C1164.7 743.5 1156.6 766 1148.3 786.3C1140.9 804.5 1133.9 821.3 1126.9 838.1"/>
<path d="M930.8 920.1C931.6 925 932.5 929.8 933.2 934.7C934 939.6 934.8 944.5 935.5 949.3C936.2 954.2 936.8 959.1 937.5 964C938.1 968.9 938.7 973.8 939.2 978.7C939.8 983.6 940.3 988.5 940.7 993.5C941.2 998.4 941.7 1003.3 942 1008.2C942.4 1013.1 942.8 1018.1 943.1 1023C943.4 1027.9 943.7 1032.9 944 1037.8C944.2 1042.7 944.4 1047.6 944.6 1052.6C944.7 1057.5 944.9 1062.5 944.9 1067.4C945 1072.3 945.1 1077.3 945.1 1082.2C945.1 1087.1 945 1092.1 945 1097"/>
<path d="M795.8 1463.9C795.8 1483.9 795.9 1504 794.7 1524.2C793.5 1544.8 791.6 1565.7 788.5 1586.3C785.4 1607.1 780.9 1628.3 776.1 1648.4C771.5 1667.6 765.8 1689.3 760.6 1704.3C757 1714.8 753.3 1722.6 749.7 1730.4"/>
<path d="M849.6 1532.5C848.8 1545 848 1557.5 846 1570.8C843.8 1585.6 840.7 1602 836.6 1617.4C832.4 1633.1 827.3 1648.9 821.1 1664C814.9 1679 806.7 1693.6 799.4 1707.5C792.6 1720.5 785.8 1732.6 778.9 1744.7"/>
<path d="M863.6 1549.3C861.2 1561.3 858.7 1573.3 855.3 1586.3C851.4 1601 846.5 1617.4 841.3 1632.9C836.1 1648.5 830.3 1664.6 824.2 1679.5C818.4 1693.6 810.8 1708.9 805.6 1719.9C802 1727.5 799.2 1733.2 796.3 1739"/>
<path d="M1065.6 1736.2C1065.3 1740.9 1065.1 1745.6 1064.9 1750.3C1064.6 1755 1064.4 1759.7 1064.2 1764.4C1064 1769.1 1063.8 1773.8 1063.7 1778.5C1063.5 1783.2 1063.4 1787.9 1063.3 1792.6C1063.1 1797.3 1063 1802 1062.9 1806.7C1062.8 1811.4 1062.8 1816.1 1062.7 1820.8C1062.6 1825.5 1062.6 1830.2 1062.5 1834.9C1062.5 1839.6 1062.5 1844.3 1062.5 1849C1062.5 1853.7 1062.5 1858.4 1062.5 1863.1C1062.5 1867.8 1062.6 1872.4 1062.6 1877.1C1062.6 1881.8 1062.7 1886.5 1062.8 1891.2C1062.8 1895.9 1062.9 1900.6 1063 1905.3C1063.1 1910 1063.2 1914.7 1063.3 1919.4C1063.4 1924.1 1063.5 1928.8 1063.7 1933.5C1063.8 1938.2 1063.9 1942.9 1064.1 1947.6C1064.2 1952.3 1064.4 1957 1064.6 1961.7C1064.7 1966.4 1064.9 1971.1 1065.1 1975.8C1065.3 1980.5 1065.5 1985.2 1065.6 1989.9C1065.8 1994.6 1066 1999.3 1066.2 2004C1066.5 2008.7 1066.7 2013.3 1066.9 2018C1067.1 2022.7 1067.3 2027.4 1067.6 2032.1C1067.8 2036.8 1068 2041.5 1068.2 2046.2C1068.5 2050.9 1068.7 2055.6 1069 2060.3C1069.2 2065 1069.4 2069.7 1069.7 2074.4C1069.9 2079.1 1070.2 2083.8 1070.4 2088.5C1070.7 2093.2 1070.9 2097.8 1071.2 2102.5C1071.5 2107.2 1071.7 2111.9 1072 2116.6C1072.2 2121.3 1072.5 2126 1072.7 2130.7C1073 2135.4 1073.2 2140.1 1073.5 2144.8C1073.7 2149.5 1074 2154.2 1074.2 2158.9C1074.5 2163.5 1074.7 2168.2 1075 2172.9C1075.2 2177.6 1075.5 2182.3 1075.7 2187"/>
<path d="M1115.6 1762.1C1115.7 1766.8 1115.8 1771.6 1115.9 1776.3C1115.9 1781 1116 1785.7 1116 1790.5C1116.1 1795.2 1116.1 1799.9 1116.2 1804.6C1116.2 1809.4 1116.2 1814.1 1116.2 1818.8C1116.2 1823.5 1116.2 1828.3 1116.2 1833C1116.2 1837.7 1116.2 1842.4 1116.2 1847.2C1116.2 1851.9 1116.1 1856.6 1116.1 1861.3C1116 1866.1 1116 1870.8 1115.9 1875.5C1115.9 1880.2 1115.8 1885 1115.7 1889.7C1115.7 1894.4 1115.6 1899.1 1115.5 1903.9C1115.4 1908.6 1115.3 1913.3 1115.2 1918C1115.1 1922.8 1115 1927.5 1114.9 1932.2C1114.8 1936.9 1114.7 1941.7 1114.6 1946.4C1114.5 1951.1 1114.3 1955.8 1114.2 1960.6C1114.1 1965.3 1113.9 1970 1113.8 1974.7C1113.7 1979.4 1113.5 1984.2 1113.4 1988.9C1113.2 1993.6 1113.1 1998.3 1112.9 2003.1C1112.8 2007.8 1112.6 2012.5 1112.5 2017.2C1112.3 2022 1112.2 2026.7 1112 2031.4C1111.8 2036.1 1111.7 2040.9 1111.5 2045.6C1111.3 2050.3 1111.2 2055 1111 2059.7C1110.8 2064.5 1110.7 2069.2 1110.5 2073.9C1110.3 2078.6 1110.2 2083.4 1110 2088.1C1109.8 2092.8 1109.7 2097.5 1109.5 2102.3C1109.3 2107 1109.2 2111.7 1109 2116.4C1108.8 2121.1 1108.7 2125.9 1108.5 2130.6C1108.3 2135.3 1108.2 2140 1108 2144.8C1107.8 2149.5 1107.7 2154.2 1107.5 2158.9C1107.4 2163.6 1107.2 2168.4 1107.1 2173.1C1106.9 2177.8 1106.8 2182.5 1106.6 2187.3C1106.5 2192 1106.3 2196.7 1106.2 2201.4C1106.1 2206.2 1105.9 2210.9 1105.8 2215.6"/>
<path d="M1161.9 1750.5C1162.1 1755.2 1162.4 1759.9 1162.5 1764.6C1162.7 1769.3 1162.9 1773.9 1163.1 1778.6C1163.2 1783.3 1163.4 1788 1163.5 1792.7C1163.6 1797.4 1163.7 1802.1 1163.8 1806.8C1163.9 1811.4 1164 1816.1 1164 1820.8C1164 1825.5 1164.1 1830.2 1164.1 1834.9C1164.1 1839.6 1164.1 1844.3 1164.1 1849C1164 1853.6 1164 1858.3 1163.9 1863C1163.9 1867.7 1163.8 1872.4 1163.7 1877.1C1163.6 1881.8 1163.5 1886.4 1163.4 1891.1C1163.3 1895.8 1163.1 1900.5 1163 1905.2C1162.8 1909.9 1162.7 1914.6 1162.5 1919.2C1162.3 1923.9 1162.1 1928.6 1161.9 1933.3C1161.7 1938 1161.5 1942.7 1161.2 1947.3C1161 1952 1160.7 1956.7 1160.4 1961.4C1160.2 1966.1 1159.9 1970.7 1159.6 1975.4C1159.3 1980.1 1159 1984.8 1158.7 1989.5C1158.3 1994.1 1158 1998.8 1157.6 2003.5C1157.3 2008.2 1156.9 2012.8 1156.6 2017.5C1156.2 2022.2 1155.8 2026.9 1155.4 2031.5C1155 2036.2 1154.6 2040.9 1154.2 2045.6C1153.8 2050.2 1153.3 2054.9 1152.9 2059.6C1152.4 2064.2 1152 2068.9 1151.5 2073.6C1151.1 2078.2 1150.6 2082.9 1150.1 2087.6C1149.6 2092.2 1149.1 2096.9 1148.6 2101.6C1148.1 2106.2 1147.6 2110.9 1147.1 2115.5C1146.6 2120.2 1146 2124.9 1145.5 2129.5C1145 2134.2 1144.4 2138.8 1143.9 2143.5C1143.3 2148.2 1142.7 2152.8 1142.2 2157.5C1141.6 2162.1 1141 2166.8 1140.4 2171.4C1139.8 2176.1 1139.2 2180.7 1138.6 2185.4C1138 2190 1137.4 2194.7 1136.8 2199.3"/>
<path d="M1643.6 1511.7C1647.4 1543.8 1651.3 1575.9 1655.3 1608.8C1659.5 1642.8 1663.9 1681.1 1668.2 1712.3C1671.8 1738.1 1675.3 1760.5 1678.9 1782.9"/>
<path d="M1690.2 1472.9C1693.3 1509.8 1696.5 1546.8 1699.3 1582.9C1702.1 1617.9 1704.5 1651.1 1707 1686.4C1709.6 1723.2 1712.1 1761.3 1714.6 1799.4"/>
<path d="M1726.4 1436.7C1726.7 1441.5 1727.1 1446.4 1727.4 1451.2C1727.8 1456.1 1728.1 1460.9 1728.5 1465.8C1728.8 1470.6 1729.1 1475.5 1729.5 1480.3C1729.8 1485.1 1730.1 1490 1730.5 1494.8C1730.8 1499.7 1731.1 1504.5 1731.4 1509.4C1731.7 1514.2 1732 1519.1 1732.3 1523.9C1732.6 1528.8 1732.9 1533.6 1733.2 1538.5C1733.5 1543.3 1733.8 1548.2 1734.1 1553C1734.4 1557.9 1734.7 1562.7 1734.9 1567.6C1735.2 1572.4 1735.5 1577.3 1735.7 1582.1C1736 1587 1736.3 1591.8 1736.5 1596.7C1736.7 1601.5 1737 1606.4 1737.2 1611.2C1737.5 1616.1 1737.7 1620.9 1737.9 1625.8C1738.1 1630.6 1738.3 1635.5 1738.5 1640.3C1738.8 1645.2 1739 1650 1739.1 1654.9C1739.3 1659.8 1739.5 1664.6 1739.7 1669.5C1739.9 1674.3 1740 1679.2 1740.2 1684C1740.4 1688.9 1740.5 1693.7 1740.6 1698.6C1740.8 1703.4 1740.9 1708.3 1741 1713.2C1741.2 1718 1741.3 1722.9 1741.4 1727.7C1741.5 1732.6 1741.6 1737.4 1741.7 1742.3C1741.8 1747.1 1741.8 1752 1741.9 1756.9C1742 1761.7 1742 1766.6 1742.1 1771.4C1742.1 1776.3 1742.2 1781.1 1742.2 1786"/>
<path d="M641.9 533L643.2 535.6"/>
<path d="M1121.5 884.7L1123.6 1025"/>
<path d="M749.7 1730.4L778.9 1744.7L796.3 1739"/>
<path d="M1075.7 2187L1105.8 2215.6L1136.8 2199.3"/>
<path d="M1678.9 1782.9L1714.6 1799.4L1742.2 1786"/>
</g>
<g fill="#fff" stroke="#000" stroke-width="2.7">
<ellipse cx="763.5" cy="389.4" rx="9.3" ry="18.5" transform="rotate(-3 763.5 389.4)"/>
<ellipse cx="1001.3" cy="315" rx="10.5" ry="15.4"/>
<ellipse cx="925.5" cy="529.4" rx="11.5" ry="19" transform="rotate(-5 925.5 529.4)"/>
<ellipse cx="1196.6" cy="281.9" rx="11.6" ry="16.4"/>
<ellipse cx="1118.2" cy="492.3" rx="11.6" ry="22" transform="rotate(-5 1118.2 492.3)"/>
<ellipse cx="1207" cy="637.5" rx="10.7" ry="13.7"/>
<ellipse cx="831.2" cy="701.8" rx="13" ry="18.3" transform="rotate(-18 831.2 701.8)"/>
<ellipse cx="1020.9" cy="661.3" rx="10.7" ry="15.5"/>
<ellipse cx="927.7" cy="897.4" rx="15.6" ry="21.6" transform="rotate(-5 927.7 897.4)"/>
<ellipse cx="1120.4" cy="860.4" rx="13.9" ry="21"/>
</g>
<g fill="#fff" stroke="#000" stroke-width="2.5">
<ellipse cx="748.9" cy="1011.5" rx="5.3" ry="6"/>
<ellipse cx="756.4" cy="1036.3" rx="6.8" ry="7.7"/>
<ellipse cx="767.2" cy="1065.4" rx="8.6" ry="9.7"/>
<ellipse cx="778.9" cy="1093.7" rx="8.7" ry="9.8"/>
<ellipse cx="793.1" cy="1122.9" rx="8.9" ry="10.1"/>
<ellipse cx="809.2" cy="1148.3" rx="8.9" ry="10.1"/>
<ellipse cx="825.7" cy="1176.8" rx="8.9" ry="10.1"/>
<ellipse cx="841.3" cy="1204.2" rx="8.9" ry="10.1"/>
<ellipse cx="860.9" cy="1230.3" rx="8.9" ry="10.1"/>
<ellipse cx="877.2" cy="1254.4" rx="8.9" ry="10.1"/>
<ellipse cx="895.1" cy="1280.8" rx="8.9" ry="10.1"/>
<ellipse cx="911.9" cy="1308.5" rx="9" ry="10.2"/>
<ellipse cx="917.3" cy="1340.8" rx="9" ry="10.2"/>
<ellipse cx="921.7" cy="1375.6" rx="9" ry="10.2"/>
<ellipse cx="924.4" cy="1409.2" rx="9" ry="10.2"/>
<ellipse cx="925.2" cy="1446.9" rx="9" ry="10.2"/>
<ellipse cx="925.8" cy="1483.2" rx="9" ry="10.2"/>
<ellipse cx="925.5" cy="1520.6" rx="9" ry="10.2"/>
<ellipse cx="924.9" cy="1552.6" rx="9" ry="10.2"/>
<ellipse cx="924.4" cy="1592.5" rx="9" ry="10.2"/>
</g>
<g fill="none" stroke="#000" stroke-width="2.0">
<path d="M588 65L588 391" stroke-dasharray="12 4"/>
<path d="M1340 52L1340 259" stroke-dasharray="12 4"/>
<path d="M1793 52L1793 1152" stroke-dasharray="12 4"/>
<path d="M458 232L668 232" stroke-dasharray="12 4"/>
<path d="M440 1730L750 1730" stroke-dasharray="12 4"/>
<path d="M582 1270L862 1270" stroke-dasharray="12 4"/>
<path d="M592 1730L592 2450" stroke-dasharray="21 10.6"/>
<path d="M750 1730L750 2336" stroke-dasharray="12 4"/>
<path d="M779.5 1746L779.5 2261" stroke-dasharray="12 4"/>
<path d="M1075.6 2188L1075.6 2261" stroke-dasharray="12 4"/>
<path d="M1105.6 2217L1105.6 2429" stroke-dasharray="21 10.6"/>
<path d="M1136.5 2200L1136.5 2261" stroke-dasharray="12 4"/>
<path d="M1714.5 1800L1714.5 2261" stroke-dasharray="12 4"/>
<path d="M1742 1786L1742 2331" stroke-dasharray="12 4"/>
<path d="M1742 1786L2033 1786" stroke-dasharray="12 4"/>
<path d="M1769 1154.6L2041 1154.6" stroke-dasharray="12 4"/>
<path d="M1751 1409L1930 1409" stroke-dasharray="12 4"/>
<path d="M869 952.7L869 1274" stroke-dasharray="12 4"/>
<path d="M1590 947.5L1590 1079.5" stroke-dasharray="12 4"/>
</g>
<g stroke="#000" stroke-width="2.0" fill="none">
<path d="M614.9 88.4L1314.6 88.4"/>
<path d="M1365.4 88.4L1767.6 88.4"/>
<path d="M475.7 259.9L475.7 1703.6"/>
<path d="M612.3 1295.4L612.3 1704.6"/>
<path d="M895.9 977L1564.6 977"/>
<path d="M1024.8 1297.8L1558.7 1063.6"/>
<path d="M988.3 1097.9L1417.5 1367.2"/>
<path d="M1119.8 1488.6L1714 1146.7"/>
<path d="M1905.7 1180L1905.7 1383.6"/>
<path d="M1905.7 1434.4L1905.7 1760.6"/>
<path d="M2006.4 1180L2006.4 1760.6"/>
<path d="M804.9 2236.5L1050.2 2236.5"/>
<path d="M1161.4 2236.5L1689.1 2236.5"/>
<path d="M775.4 2306.4L1080.2 2306.4"/>
<path d="M1131 2306.4L1716.6 2306.4"/>
<path d="M612.9 2407L1079.6 2407"/>
</g>
<g fill="#000" stroke="none">
<path d="M589.5 88.4L621.3 74.6L621.3 102.2Z"/>
<path d="M1340 88.4L1308.2 102.2L1308.2 74.6Z"/>
<path d="M1340 88.4L1371.8 74.6L1371.8 102.2Z"/>
<path d="M1793 88.4L1761.2 102.2L1761.2 74.6Z"/>
<path d="M475.7 234.5L489.5 266.3L461.9 266.3Z"/>
<path d="M475.7 1729L461.9 1697.2L489.5 1697.2Z"/>
<path d="M612.3 1270L626.1 1301.8L598.5 1301.8Z"/>
<path d="M612.3 1730L598.5 1698.2L626.1 1698.2Z"/>
<path d="M870.5 977L902.3 963.2L902.3 990.8Z"/>
<path d="M1590 977L1558.2 990.8L1558.2 963.2Z"/>
<path d="M1001.5 1308L1025.1 1282.6L1036.2 1307.9Z"/>
<path d="M1582 1053.4L1558.4 1078.8L1547.3 1053.5Z"/>
<path d="M966.8 1084.4L1001.1 1089.6L986.4 1113Z"/>
<path d="M1439 1380.7L1404.7 1375.5L1419.4 1352.1Z"/>
<path d="M1097.8 1501.3L1118.5 1473.5L1132.2 1497.4Z"/>
<path d="M1736 1134L1715.3 1161.8L1701.6 1137.9Z"/>
<path d="M1905.7 1154.6L1919.5 1186.4L1891.9 1186.4Z"/>
<path d="M1905.7 1409L1891.9 1377.2L1919.5 1377.2Z"/>
<path d="M1905.7 1409L1919.5 1440.8L1891.9 1440.8Z"/>
<path d="M1905.7 1786L1891.9 1754.2L1919.5 1754.2Z"/>
<path d="M2006.4 1154.6L2020.2 1186.4L1992.6 1186.4Z"/>
<path d="M2006.4 1786L1992.6 1754.2L2020.2 1754.2Z"/>
<path d="M779.5 2236.5L811.3 2222.7L811.3 2250.3Z"/>
<path d="M1075.6 2236.5L1043.8 2250.3L1043.8 2222.7Z"/>
<path d="M1136 2236.5L1167.8 2222.7L1167.8 2250.3Z"/>
<path d="M1714.5 2236.5L1682.7 2250.3L1682.7 2222.7Z"/>
<path d="M750 2306.4L781.8 2292.6L781.8 2320.2Z"/>
<path d="M1105.6 2306.4L1073.8 2320.2L1073.8 2292.6Z"/>
<path d="M1105.6 2306.4L1137.4 2292.6L1137.4 2320.2Z"/>
<path d="M1742 2306.4L1710.2 2320.2L1710.2 2292.6Z"/>
<path d="M587.5 2407L619.3 2393.2L619.3 2420.8Z"/>
<path d="M1105 2407L1073.2 2420.8L1073.2 2393.2Z"/>
</g>
<g fill="#fff" stroke="none">
<rect x="887.2" y="62" width="127" height="45"/>
<rect x="1497" y="62.3" width="121" height="45"/>
<rect x="425.4" y="961.5" width="116" height="45"/>
<rect x="561.9" y="1477.5" width="116" height="41"/>
<rect x="1129" y="956" width="119" height="41"/>
<rect x="1337.5" y="1114" width="126.2" height="51"/>
<rect x="1240" y="1260.4" width="116" height="51"/>
<rect x="1505.3" y="1213.2" width="118" height="40"/>
<rect x="1859.1" y="1259.6" width="95.8" height="43"/>
<rect x="1858" y="1568.7" width="116" height="42"/>
<rect x="1959" y="1461.2" width="116" height="43"/>
<rect x="872" y="2217" width="121" height="37"/>
<rect x="1371" y="2217" width="121" height="37"/>
<rect x="873" y="2287" width="121" height="37"/>
<rect x="1371.6" y="2287" width="121" height="37"/>
</g>
<g fill="#000" font-family="'Liberation Sans', Arial, Helvetica, sans-serif" font-weight="700" font-size="36.9" text-anchor="middle">
<text x="953.2" y="97">24.00&quot;</text>
<text x="1560" y="97.3">26.00&quot;</text>
<text x="483.4" y="996.5">40.00&quot;</text>
<text x="619.9" y="1510.5">20.75&quot;</text>
<text x="1191" y="989">22.75&quot;</text>
<text x="1400.6" y="1152" word-spacing="-6">18.00 &quot;</text>
<text x="1298" y="1298.4">19.50&quot;</text>
<text x="1564.3" y="1245.7">23.00&quot;</text>
<text x="1907" y="1293.6">6.00&quot;</text>
<text x="1916" y="1602.2">13.50&quot;</text>
<text x="2017" y="1495.2">19.50&quot;</text>
<text x="935" y="2248">17.25&quot;</text>
<text x="1434" y="2248">18.50&quot;</text>
<text x="936" y="2318">20.50&quot;</text>
<text x="1434.6" y="2318">21.00&quot;</text>
<text x="863.6" y="2395.4">28.00&quot;</text>
</g>
</svg>
</body>
</html>
